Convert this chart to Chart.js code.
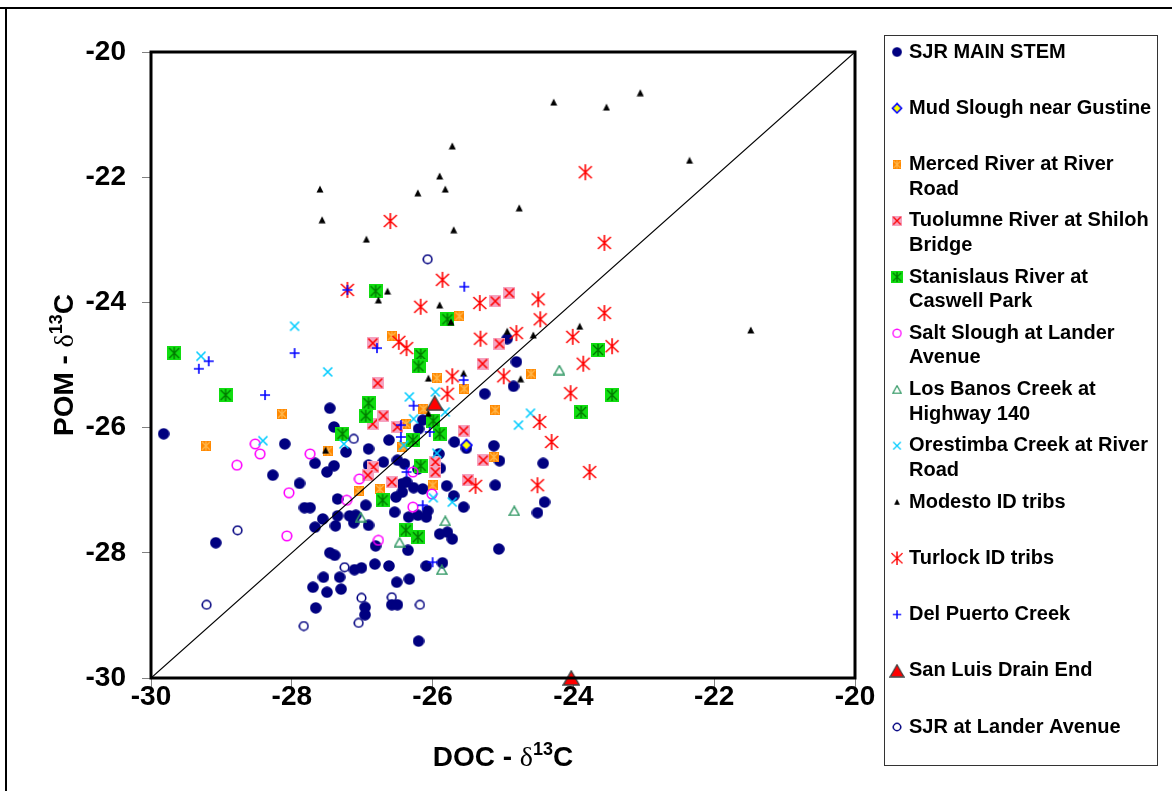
<!DOCTYPE html>
<html>
<head>
<meta charset="utf-8">
<script src="https://cdn.jsdelivr.net/npm/chart.js@4.4.0/dist/chart.umd.min.js"></script>
<style>
  html, body { margin: 0; padding: 0; background: #fff; }
  canvas { display: block; }
</style>
</head>
<body>
<canvas id="chart" width="1172" height="791"></canvas>
<script>
// [DOC d13C, POM d13C] pairs per site
const sjrMainStem = [
  [-29.82,-26.10],[-27.46,-25.69],[-27.40,-25.99],[-28.10,-26.26],[-27.23,-26.39],[-26.91,-26.34],
  [-27.67,-26.57],[-27.40,-26.61],[-27.50,-26.71],[-28.27,-26.76],[-27.89,-26.89],[-26.91,-26.60],
  [-27.35,-27.14],[-29.08,-27.84],[-27.82,-27.28],[-27.74,-27.28],[-26.95,-27.24],[-27.56,-27.46],
  [-27.67,-27.59],[-27.38,-27.57],[-27.35,-27.41],[-27.18,-27.41],[-27.09,-27.40],[-27.12,-27.52],
  [-26.91,-27.56],[-26.81,-27.89],[-27.46,-28.00],[-27.39,-28.04],[-26.82,-28.18],[-27.11,-28.27],
  [-27.01,-28.24],[-27.55,-28.39],[-27.32,-28.39],[-27.70,-28.55],[-27.50,-28.63],[-27.30,-28.58],
  [-27.66,-28.88],[-26.96,-28.87],[-26.96,-28.99],[-26.44,-26.90],[-26.27,-26.96],[-25.80,-26.93],
  [-25.11,-26.92],[-24.41,-27.19],[-24.51,-27.36],[-25.56,-27.27],[-25.70,-27.09],[-26.54,-27.35],
  [-26.34,-27.43],[-26.21,-27.40],[-26.09,-27.43],[-26.07,-27.33],[-26.35,-27.96],[-25.90,-27.70],
  [-25.79,-27.67],[-25.72,-27.78],[-25.06,-27.94],[-26.62,-28.21],[-26.09,-28.21],[-25.86,-28.16],
  [-26.51,-28.47],[-26.33,-28.42],[-26.58,-28.83],[-26.50,-28.83],[-26.20,-29.41],[-24.94,-24.58],
  [-24.81,-24.95],[-24.85,-25.34],[-25.26,-25.46],[-26.14,-25.88],[-26.20,-26.02],[-26.62,-26.20],
  [-26.40,-26.58],[-26.70,-26.55],[-25.69,-26.23],[-25.52,-26.33],[-25.13,-26.29],[-25.05,-26.53],
  [-24.43,-26.57],[-25.91,-26.42],[-25.89,-26.65],[-26.37,-26.87],[-26.43,-27.03],[-26.52,-27.11],
  [-26.50,-26.52],[-26.21,-26.66],[-26.57,-26.87],[-26.14,-26.98]
];
const mudSlough = [[-25.52,-26.28]];
const mercedRiver = [
  [-28.14,-25.78],[-29.22,-26.29],[-27.49,-26.37],[-27.05,-27.01],[-26.75,-26.98],[-25.62,-24.22],
  [-25.94,-25.21],[-25.55,-25.38],[-24.60,-25.14],[-26.58,-24.54],[-26.13,-25.70],[-26.38,-25.94],
  [-26.43,-26.31],[-25.11,-25.72],[-25.13,-26.47],[-26.00,-26.92]
];
const tuolumneRiver = [
  [-26.85,-24.65],[-26.78,-25.29],[-26.85,-25.94],[-26.84,-26.63],[-26.92,-26.76],[-25.11,-23.98],
  [-25.05,-24.66],[-25.29,-24.98],[-26.70,-25.81],[-26.50,-25.99],[-25.56,-26.05],[-25.28,-26.52],
  [-25.50,-26.84],[-25.96,-26.55],[-25.96,-26.71],[-26.58,-26.87],[-24.91,-23.85]
];
const stanislausRiver = [
  [-29.67,-24.81],[-28.94,-25.48],[-26.91,-25.61],[-26.95,-25.81],[-27.28,-26.10],[-25.79,-24.27],
  [-26.17,-24.84],[-26.20,-25.02],[-23.65,-24.76],[-23.89,-25.75],[-23.45,-25.48],[-25.99,-25.89],
  [-25.90,-26.10],[-26.28,-26.20],[-26.17,-26.61],[-26.71,-27.16],[-26.38,-27.64],[-26.21,-27.75],
  [-26.81,-23.82]
];
const saltSlough = [
  [-28.52,-26.26],[-28.45,-26.42],[-28.78,-26.60],[-28.04,-27.04],[-27.74,-26.42],[-27.04,-26.82],
  [-27.22,-27.16],[-28.07,-27.73],[-26.77,-27.80],[-26.01,-27.06],[-26.28,-27.27],[-26.28,-26.71]
];
const losBanosCreek = [
  [-24.20,-25.08],[-24.84,-27.33],[-25.82,-27.49],[-26.47,-27.83],[-25.87,-28.27],[-27.02,-27.43]
];
const orestimbaCreek = [
  [-27.96,-24.38],[-29.29,-24.86],[-27.49,-25.11],[-28.41,-26.21],[-27.26,-26.26],[-25.96,-25.43],
  [-26.33,-25.51],[-25.82,-25.75],[-26.27,-25.86],[-24.61,-25.77],[-24.78,-25.96],[-26.41,-26.28],
  [-25.94,-26.41],[-25.99,-27.12],[-25.72,-27.19]
];
const modestoTribs = [
  [-24.28,-20.80],[-23.53,-20.88],[-23.05,-20.65],[-22.35,-21.73],[-25.72,-21.50],[-25.90,-21.98],
  [-27.60,-22.19],[-26.21,-22.25],[-25.82,-22.19],[-24.77,-22.49],[-27.57,-22.68],[-25.70,-22.84],
  [-26.94,-22.99],[-26.64,-23.82],[-26.77,-23.96],[-25.90,-24.04],[-25.74,-24.31],[-24.94,-24.46],
  [-24.57,-24.52],[-23.91,-24.38],[-26.06,-25.21],[-25.56,-25.13],[-24.75,-25.22],[-26.06,-25.77],
  [-27.52,-26.36],[-21.48,-24.44]
];
const turlockTribs = [
  [-27.21,-23.80],[-26.60,-22.70],[-25.86,-23.64],[-24.50,-23.95],[-23.83,-21.92],[-23.56,-23.05],
  [-26.17,-24.07],[-25.33,-24.01],[-26.48,-24.63],[-26.37,-24.73],[-25.32,-24.58],[-24.81,-24.49],
  [-24.47,-24.27],[-24.01,-24.55],[-23.86,-24.98],[-23.56,-24.17],[-23.45,-24.70],[-25.72,-25.18],
  [-25.79,-25.46],[-24.99,-25.18],[-24.04,-25.45],[-24.48,-25.91],[-24.31,-26.23],[-25.39,-26.93],
  [-24.51,-26.92],[-23.77,-26.71]
];
const delPuertoCreek = [
  [-29.18,-24.94],[-29.32,-25.06],[-27.96,-24.81],[-28.38,-25.48],[-26.79,-24.73],[-27.21,-23.80],
  [-25.55,-23.75],[-25.56,-25.24],[-26.27,-25.65],[-26.45,-25.96],[-26.45,-26.15],[-26.04,-26.07],
  [-26.37,-26.71],[-26.14,-27.24],[-26.00,-28.15]
];
const sanLuisDrain = [[-25.97,-25.61],[-24.03,-30.00]];
const sjrLander = [
  [-26.07,-23.31],[-27.12,-26.18],[-28.77,-27.64],[-29.21,-28.83],[-27.83,-29.17],[-27.25,-28.23],
  [-27.01,-28.72],[-27.05,-29.12],[-26.58,-28.71],[-26.18,-28.83]
];
const oneToOne = [[-30,-30],[-20,-20]];

const axisTicks = [-30, -28, -26, -24, -22, -20];

const legendLabels = [
  ['SJR MAIN STEM'],
  ['Mud Slough near Gustine'],
  ['Merced River at River', 'Road'],
  ['Tuolumne River at Shiloh', 'Bridge'],
  ['Stanislaus River at', 'Caswell Park'],
  ['Salt Slough at Lander', 'Avenue'],
  ['Los Banos Creek at', 'Highway 140'],
  ['Orestimba Creek at River', 'Road'],
  ['Modesto ID tribs'],
  ['Turlock ID tribs'],
  ['Del Puerto Creek'],
  ['San Luis Drain End'],
  ['SJR at Lander Avenue']
];

const FONT = "'Liberation Sans', Arial, sans-serif";

// small canvases used as point styles
function mk(w, h, fn) {
  const c = document.createElement('canvas');
  c.width = w; c.height = h;
  fn(c.getContext('2d'), w, h);
  return c;
}
function strokePath(g, color, lw, segs) {
  g.strokeStyle = color; g.lineWidth = lw; g.beginPath();
  segs.forEach(s => { g.moveTo(s[0], s[1]); g.lineTo(s[2], s[3]); });
  g.stroke();
}

const markers = [
  mk(12, 12, g => { g.fillStyle = '#000080'; g.beginPath(); g.arc(6, 6, 5.8, 0, Math.PI * 2); g.fill(); }),
  mk(14, 14, g => {
    g.beginPath(); g.moveTo(7, 1.5); g.lineTo(12.5, 7); g.lineTo(7, 12.5); g.lineTo(1.5, 7); g.closePath();
    g.fillStyle = '#ffff00'; g.fill(); g.lineWidth = 1.8; g.strokeStyle = '#0000ff'; g.stroke();
  }),
  mk(10, 10, g => {
    g.fillStyle = '#ff8800'; g.fillRect(0, 0, 10, 10);
    strokePath(g, '#ffb84d', 1.2, [[1,1,9,9],[9,1,1,9],[5,0.5,5,9.5]]);
  }),
  mk(12, 12, g => {
    g.fillStyle = '#f5a3c0'; g.fillRect(0, 0, 12, 12);
    strokePath(g, '#ff0000', 1.6, [[1.5,1.5,10.5,10.5],[10.5,1.5,1.5,10.5]]);
  }),
  mk(14, 14, g => {
    g.fillStyle = '#11dd11'; g.fillRect(0, 0, 14, 14);
    strokePath(g, '#007a00', 1.4, [[7,1,7,13],[2,2,12,12],[12,2,2,12]]);
  }),
  mk(12, 12, g => { g.strokeStyle = '#ff00ff'; g.lineWidth = 1.6; g.beginPath(); g.arc(6, 6, 4.8, 0, Math.PI * 2); g.stroke(); }),
  mk(12, 11, g => {
    g.beginPath(); g.moveTo(6, 1.2); g.lineTo(11, 10); g.lineTo(1, 10); g.closePath();
    g.strokeStyle = '#339966'; g.lineWidth = 1.5; g.stroke();
  }),
  mk(12, 12, g => strokePath(g, '#00ccff', 1.6, [[1.5,1.5,10.5,10.5],[10.5,1.5,1.5,10.5]])),
  mk(8, 8, g => {
    g.beginPath(); g.moveTo(4, 0.5); g.lineTo(7.5, 7.5); g.lineTo(0.5, 7.5); g.closePath();
    g.fillStyle = '#000'; g.fill();
  }),
  mk(16, 18, g => strokePath(g, '#ff0000', 1.6, [[8,1,8,17],[1.5,3,14.5,15],[14.5,3,1.5,15]])),
  mk(12, 12, g => strokePath(g, '#0000ff', 1.6, [[6,1,6,11],[1,6,11,6]])),
  mk(18, 16, g => {
    g.beginPath(); g.moveTo(9, 1); g.lineTo(17, 15); g.lineTo(1, 15); g.closePath();
    g.fillStyle = '#ff0000'; g.fill(); g.strokeStyle = '#404040'; g.lineWidth = 1.5; g.stroke();
  }),
  mk(11, 11, g => { g.strokeStyle = '#000080'; g.lineWidth = 1.6; g.beginPath(); g.arc(5.5, 5.5, 4.3, 0, Math.PI * 2); g.stroke(); })
];

const seriesData = [sjrMainStem, mudSlough, mercedRiver, tuolumneRiver, stanislausRiver, saltSlough,
  losBanosCreek, orestimbaCreek, modestoTribs, turlockTribs, delPuertoCreek, sanLuisDrain, sjrLander];

const toXY = arr => arr.map(p => ({ x: p[0], y: p[1] }));

const datasets = seriesData.map((d, i) => ({
  label: legendLabels[i].join(' '),
  data: toXY(d),
  pointStyle: markers[i],
  pointRadius: 6,
  order: 20 - i,   // later series on top, like the original
  clip: false
}));
datasets.push({
  label: '1:1',
  data: toXY(oneToOne),
  showLine: true,
  borderColor: '#000',
  borderWidth: 1.2,
  pointRadius: 0,
  order: 0
});

function drawRich(ctx, parts, cx, cy, rotate) {
  ctx.save();
  ctx.translate(cx, cy);
  if (rotate) ctx.rotate(-Math.PI / 2);
  let total = 0;
  parts.forEach(p => { ctx.font = p.font; p.w = ctx.measureText(p.text).width; total += p.w; });
  let x = -total / 2;
  ctx.fillStyle = '#000';
  ctx.textBaseline = 'alphabetic';
  parts.forEach(p => { ctx.font = p.font; ctx.fillText(p.text, x, p.dy || 0); x += p.w; });
  ctx.restore();
}

function titleParts(name) {
  return [
    { text: name + ' - ', font: 'bold 28px ' + FONT },
    { text: 'δ', font: "28px 'Liberation Serif', serif" },
    { text: '13', font: 'bold 18px ' + FONT, dy: -11 },
    { text: 'C', font: 'bold 28px ' + FONT }
  ];
}

const decorPlugin = {
  id: 'decor',
  beforeDraw(chart) {
    const ctx = chart.ctx;
    ctx.save();
    ctx.fillStyle = '#fff';
    ctx.fillRect(0, 0, chart.width, chart.height);
    // outer frame
    ctx.fillStyle = '#000';
    ctx.fillRect(0, 7, chart.width, 2);
    ctx.fillRect(5, 7, 2, chart.height - 7);
    ctx.restore();
  },
  afterDraw(chart) {
    const ctx = chart.ctx;
    const a = chart.chartArea;
    ctx.save();
    ctx.strokeStyle = '#000';
    ctx.lineWidth = 3;
    ctx.strokeRect(a.left, a.top, a.right - a.left, a.bottom - a.top);

    drawRich(ctx, titleParts('POM'), 73, (a.top + a.bottom) / 2, true);
    drawRich(ctx, titleParts('DOC'), (a.left + a.right) / 2, 766, false);

    // legend box
    ctx.lineWidth = 1;
    ctx.strokeStyle = '#333';
    ctx.strokeRect(884.5, 35.5, 273, 730);
    ctx.font = 'bold 20px ' + FONT;
    ctx.fillStyle = '#000';
    ctx.textBaseline = 'middle';
    legendLabels.forEach((lines, i) => {
      const y = 52 + i * 56.25;
      const img = markers[i];
      const s = 0.85;
      ctx.drawImage(img, 897 - img.width * s / 2, y - img.height * s / 2, img.width * s, img.height * s);
      lines.forEach((t, j) => ctx.fillText(t, 909, y + j * 24.5));
    });
    ctx.restore();
  }
};

const tickFont = { family: FONT, size: 28, weight: 'bold' };

new Chart(document.getElementById('chart'), {
  type: 'scatter',
  data: { datasets },
  options: {
    responsive: false,
    animation: false,
    events: [],
    layout: { padding: { left: 0, top: 52, right: 317, bottom: 0 } },
    plugins: { legend: { display: false }, tooltip: { enabled: false } },
    scales: {
      x: {
        type: 'linear', position: 'bottom',
        min: axisTicks[0], max: axisTicks[axisTicks.length - 1],
        afterBuildTicks: s => { s.ticks = axisTicks.map(v => ({ value: v })); },
        ticks: { font: tickFont, color: '#000', padding: -7, maxRotation: 0 },
        grid: { drawOnChartArea: false, color: '#808080', tickLength: 9 },
        border: { display: false },
        afterFit: s => { s.height = 113; }
      },
      y: {
        type: 'linear', position: 'left',
        min: axisTicks[0], max: axisTicks[axisTicks.length - 1],
        afterBuildTicks: s => { s.ticks = axisTicks.map(v => ({ value: v })); },
        ticks: { font: tickFont, color: '#000', padding: 16 },
        grid: { drawOnChartArea: false, color: '#808080', tickLength: 9 },
        border: { display: false },
        afterFit: s => { s.width = 151; }
      }
    }
  },
  plugins: [decorPlugin]
});
</script>
</body>
</html>
